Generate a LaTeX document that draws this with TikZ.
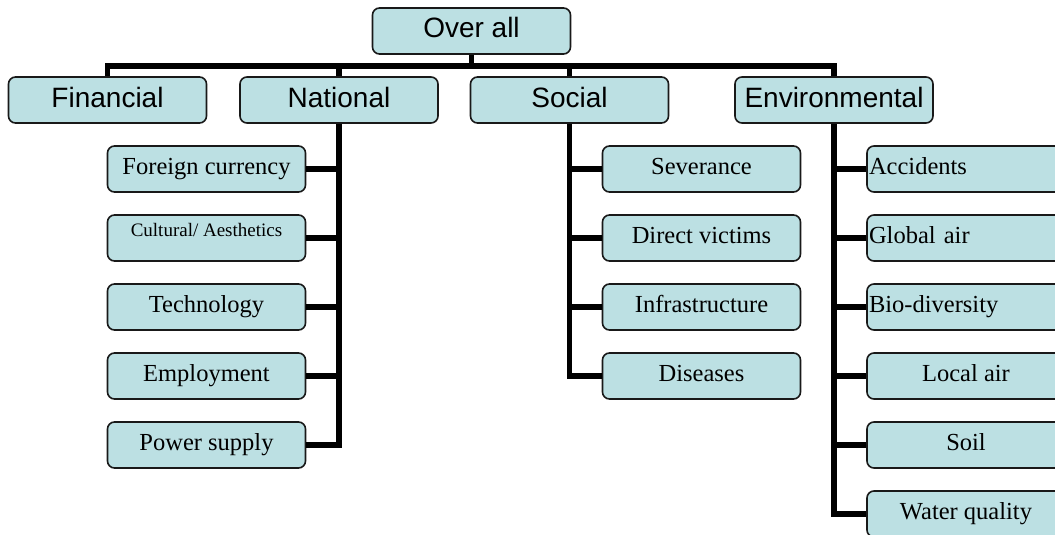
\documentclass[tikz,border=0pt]{standalone}
\usepackage{fontspec}
\setmainfont{Liberation Serif}
\newfontfamily\headfont{Liberation Sans}
\definecolor{boxfill}{RGB}{188,224,227}
\tikzset{
  base/.style={draw=black!90, line width=1.6pt, fill=boxfill, rounded corners=7pt,
    minimum width=198pt, minimum height=46pt, inner sep=0pt},
  head/.style={base, font=\headfont\fontsize{28}{30}\selectfont, text height=20pt, text depth=6pt},
  leaf/.style={base, font=\fontsize{24.5}{26}\selectfont, text height=17pt, text depth=7pt},
  leafl/.style={leaf, text width=194pt, align=left},
  leafs/.style={base, font=\fontsize{19}{21}\selectfont, text height=13pt, text depth=17pt},
  conn/.style={line width=5.5pt, line join=miter},
}
\begin{document}
\begin{tikzpicture}[x=1pt,y=-1pt]
\useasboundingbox (0,0) rectangle (1055,535);
% level 0 and 1
\node[head] (over) at (471.5,31) {Over all};
\node[head] (fin) at (107.5,100) {Financial};
\node[head] (nat) at (339,100) {National};
\node[head] (soc) at (569.5,100) {Social};
\node[head] (env) at (834,100) {Environmental};
\coordinate (bar) at (471.5,66);
% National children
\node[leaf] (fc) at (206.5,169) {Foreign currency};
\node[leafs] (ca) at (206.5,238) {Cultural/ Aesthetics};
\node[leaf] (te) at (206.5,307) {Technology};
\node[leaf] (em) at (206.5,376) {Employment};
\node[leaf] (pw) at (206.5,445) {Power supply};
% Social children
\node[leaf] (sev) at (701.5,169) {Severance};
\node[leaf] (dv) at (701.5,238) {Direct victims};
\node[leaf] (inf) at (701.5,307) {Infrastructure};
\node[leaf] (dis) at (701.5,376) {Diseases};
% Environmental children
\node[leafl] (acc) at (966,169) {Accidents};
\node[leafl] (ga) at (966,238) {Global air};
\node[leafl] (bio) at (966,307) {Bio-diversity};
\node[leaf] (la) at (966,376) {Local air};
\node[leaf] (soil) at (966,445) {Soil};
\node[leaf] (wq) at (966,514) {Water quality};
% top connectors
\draw[conn] (over.south) -- (bar);
\draw[conn] (fin.north) -- (fin.north |- bar) -- (env.north |- bar) -- (env.north);
\draw[conn] (nat.north) -- (nat.north |- bar);
\draw[conn] (soc.north) -- (soc.north |- bar);
% National branch
\draw[conn] (nat.south) |- (pw.east);
\foreach \n in {fc,ca,te,em} \draw[conn] (\n.east) -- (\n.east -| nat.south);
% Social branch
\draw[conn] (soc.south) |- (dis.west);
\foreach \n in {sev,dv,inf} \draw[conn] (\n.west) -- (\n.west -| soc.south);
% Environmental branch
\draw[conn] (env.south) |- (wq.west);
\foreach \n in {acc,ga,bio,la,soil} \draw[conn] (\n.west) -- (\n.west -| env.south);
\end{tikzpicture}
\end{document}
